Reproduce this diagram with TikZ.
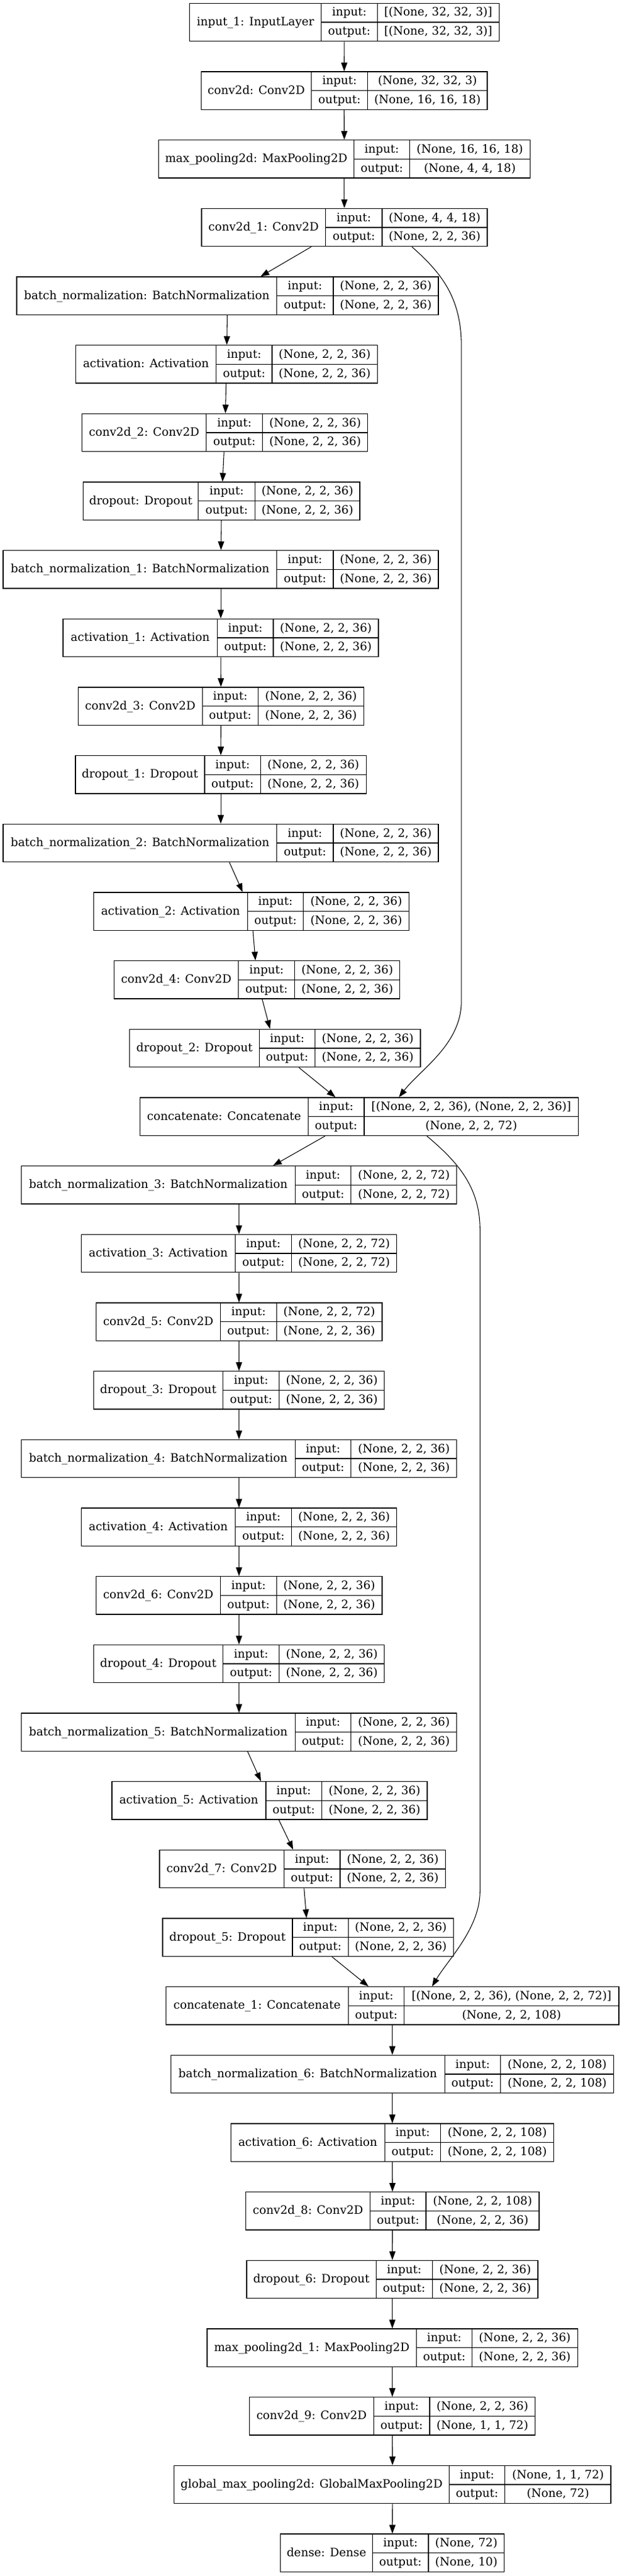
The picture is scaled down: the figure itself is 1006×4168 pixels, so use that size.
\documentclass[tikz,border=0pt]{standalone}
\usepackage{fontspec}
\setmainfont{DejaVu Serif}
\usetikzlibrary{arrows.meta}

\tikzset{
  rec/.style={draw,line width=1pt,inner sep=0pt,minimum height=46pt},
  txt/.style={inner sep=0pt,text height=11pt,text depth=3pt,font=\fontsize{14}{16}\selectfont},
  link/.style={line width=0.8pt,-{Triangle[length=10.5pt,width=7.5pt]}}
}

% one layer box: name, rank, cell borders (px), label, input shape, output shape
\newcommand{\layer}[9]{
  \pgfmathsetmacro{\rtop}{5.333+#2*110.667}
  \pgfmathsetmacro{\rbot}{\rtop+61.333}
  \pgfmathsetmacro{\rmid}{\rtop+30.667}
  \pgfmathsetmacro{\rin}{\rtop+15.333}
  \pgfmathsetmacro{\rout}{\rtop+46}
  \node[rec,minimum width={(#6-#3)*0.75pt}] (#1) at ({(#3+#6)/2},\rmid) {};
  \draw[line width=1pt] (#4,\rtop) -- (#4,\rbot) (#5,\rtop) -- (#5,\rbot) (#4,\rmid) -- (#6,\rmid);
  \node[txt] (#1-n) at ({(#3+#4)/2},\rmid) {#7};
  \node[txt] (#1-i) at ({(#4+#5)/2},\rin) {input:};
  \node[txt] (#1-o) at ({(#4+#5)/2},\rout) {output:};
  \node[txt] (#1-a) at ({(#5+#6)/2},\rin) {#8};
  \node[txt] (#1-b) at ({(#5+#6)/2},\rout) {#9};
}

\begin{document}
\begin{tikzpicture}[x=0.75pt,y=-0.75pt]
\fill[white] (0,0) rectangle (1006,4168);
\layer{input}{0}{306.7}{519.7}{610.2}{807.2}{input\_1: InputLayer}{[(None, 32, 32, 3)]}{[(None, 32, 32, 3)]}
\layer{conv}{1}{325.3}{503.7}{594.8}{787.9}{conv2d: Conv2D}{(None, 32, 32, 3)}{(None, 16, 16, 18)}
\layer{pool}{2}{256.6}{572.3}{662.8}{857.2}{max\_pooling2d: MaxPooling2D}{(None, 16, 16, 18)}{(None, 4, 4, 18)}
\layer{conv1}{3}{325.9}{526.8}{617.9}{787.9}{conv2d\_1: Conv2D}{(None, 4, 4, 18)}{(None, 2, 2, 36)}
\layer{bn}{4}{26.9}{447.8}{538.9}{709.0}{batch\_normalization: BatchNormalization}{(None, 2, 2, 36)}{(None, 2, 2, 36)}
\layer{act}{5}{122.5}{349.7}{440.1}{610.2}{activation: Activation}{(None, 2, 2, 36)}{(None, 2, 2, 36)}
\layer{conv2}{6}{132.8}{333.6}{424.7}{594.8}{conv2d\_2: Conv2D}{(None, 2, 2, 36)}{(None, 2, 2, 36)}
\layer{drop}{7}{134.7}{320.8}{412.5}{582.0}{dropout: Dropout}{(None, 2, 2, 36)}{(None, 2, 2, 36)}
\layer{bn1}{8}{5.1}{447.8}{538.9}{709.0}{batch\_normalization\_1: BatchNormalization}{(None, 2, 2, 36)}{(None, 2, 2, 36)}
\layer{act1}{9}{102.0}{351.6}{442.0}{612.1}{activation\_1: Activation}{(None, 2, 2, 36)}{(None, 2, 2, 36)}
\layer{conv3}{10}{126.4}{327.2}{417.7}{588.3}{conv2d\_3: Conv2D}{(None, 2, 2, 36)}{(None, 2, 2, 36)}
\layer{drop1}{11}{121.9}{331.0}{421.5}{592.2}{dropout\_1: Dropout}{(None, 2, 2, 36)}{(None, 2, 2, 36)}
\layer{bn2}{12}{5.1}{447.8}{538.9}{709.0}{batch\_normalization\_2: BatchNormalization}{(None, 2, 2, 36)}{(None, 2, 2, 36)}
\layer{act2}{13}{151.4}{400.4}{490.8}{661.5}{activation\_2: Activation}{(None, 2, 2, 36)}{(None, 2, 2, 36)}
\layer{conv4}{14}{184.8}{385.6}{476.7}{646.7}{conv2d\_4: Conv2D}{(None, 2, 2, 36)}{(None, 2, 2, 36)}
\layer{drop2}{15}{209.8}{419.6}{509.4}{680.1}{dropout\_2: Dropout}{(None, 2, 2, 36)}{(None, 2, 2, 36)}
\layer{cat}{16}{226.5}{498.5}{589.0}{935.5}{concatenate: Concatenate}{[(None, 2, 2, 36), (None, 2, 2, 36)]}{(None, 2, 2, 72)}
\layer{bn3}{17}{34.6}{477.3}{567.8}{738.5}{batch\_normalization\_3: BatchNormalization}{(None, 2, 2, 72)}{(None, 2, 2, 72)}
\layer{act3}{18}{131.5}{380.5}{471.6}{641.6}{activation\_3: Activation}{(None, 2, 2, 72)}{(None, 2, 2, 72)}
\layer{conv5}{19}{155.3}{356.7}{447.2}{617.9}{conv2d\_5: Conv2D}{(None, 2, 2, 72)}{(None, 2, 2, 36)}
\layer{drop3}{20}{151.4}{360.6}{451.7}{621.7}{dropout\_3: Dropout}{(None, 2, 2, 36)}{(None, 2, 2, 36)}
\layer{bn4}{21}{34.6}{477.3}{567.8}{738.5}{batch\_normalization\_4: BatchNormalization}{(None, 2, 2, 36)}{(None, 2, 2, 36)}
\layer{act4}{22}{131.5}{380.5}{471.6}{641.6}{activation\_4: Activation}{(None, 2, 2, 36)}{(None, 2, 2, 36)}
\layer{conv6}{23}{155.3}{356.7}{447.2}{617.9}{conv2d\_6: Conv2D}{(None, 2, 2, 36)}{(None, 2, 2, 36)}
\layer{drop4}{24}{151.4}{360.6}{451.7}{621.7}{dropout\_4: Dropout}{(None, 2, 2, 36)}{(None, 2, 2, 36)}
\layer{bn5}{25}{34.6}{477.3}{567.8}{738.5}{batch\_normalization\_5: BatchNormalization}{(None, 2, 2, 36)}{(None, 2, 2, 36)}
\layer{act5}{26}{180.9}{429.9}{520.3}{691.0}{activation\_5: Activation}{(None, 2, 2, 36)}{(None, 2, 2, 36)}
\layer{conv7}{27}{257.9}{459.4}{549.9}{720.5}{conv2d\_7: Conv2D}{(None, 2, 2, 36)}{(None, 2, 2, 36)}
\layer{drop5}{28}{263.1}{472.9}{563.3}{733.4}{dropout\_5: Dropout}{(None, 2, 2, 36)}{(None, 2, 2, 36)}
\layer{cat1}{29}{268.2}{563.3}{653.8}{1000.9}{concatenate\_1: Concatenate}{[(None, 2, 2, 36), (None, 2, 2, 72)]}{(None, 2, 2, 108)}
\layer{bn6}{30}{276.5}{719.2}{809.7}{992.6}{batch\_normalization\_6: BatchNormalization}{(None, 2, 2, 108)}{(None, 2, 2, 108)}
\layer{act6}{31}{373.4}{622.4}{712.8}{895.7}{activation\_6: Activation}{(None, 2, 2, 108)}{(None, 2, 2, 108)}
\layer{conv8}{32}{397.8}{598.6}{689.1}{871.9}{conv2d\_8: Conv2D}{(None, 2, 2, 108)}{(None, 2, 2, 36)}
\layer{drop6}{33}{399.1}{608.2}{699.3}{870.0}{dropout\_6: Dropout}{(None, 2, 2, 36)}{(None, 2, 2, 36)}
\layer{pool1}{34}{334.9}{673.7}{763.5}{934.2}{max\_pooling2d\_1: MaxPooling2D}{(None, 2, 2, 36)}{(None, 2, 2, 36)}
\layer{conv9}{35}{403.6}{604.4}{694.9}{865.5}{conv2d\_9: Conv2D}{(None, 2, 2, 36)}{(None, 1, 1, 72)}
\layer{gpool}{36}{281.7}{726.3}{816.8}{988.1}{global\_max\_pooling2d: GlobalMaxPooling2D}{(None, 1, 1, 72)}{(None, 72)}
\layer{dense}{37}{453.6}{602.5}{692.9}{815.5}{dense: Dense}{(None, 72)}{(None, 10)}

\draw[link] (input) -- (conv);
\draw[link] (conv) -- (pool);
\draw[link] (pool) -- (conv1);
\draw[link] (conv1) -- (bn);
\draw[link] (bn) -- (act);
\draw[link] (act) -- (conv2);
\draw[link] (conv2) -- (drop);
\draw[link] (drop) -- (bn1);
\draw[link] (bn1) -- (act1);
\draw[link] (act1) -- (conv3);
\draw[link] (conv3) -- (drop1);
\draw[link] (drop1) -- (bn2);
\draw[link] (bn2) -- (act2);
\draw[link] (act2) -- (conv4);
\draw[link] (conv4) -- (drop2);
\draw[link] (drop2) -- (cat);
\draw[link] (cat) -- (bn3);
\draw[link] (bn3) -- (act3);
\draw[link] (act3) -- (conv5);
\draw[link] (conv5) -- (drop3);
\draw[link] (drop3) -- (bn4);
\draw[link] (bn4) -- (act4);
\draw[link] (act4) -- (conv6);
\draw[link] (conv6) -- (drop4);
\draw[link] (drop4) -- (bn5);
\draw[link] (bn5) -- (act5);
\draw[link] (act5) -- (conv7);
\draw[link] (conv7) -- (drop5);
\draw[link] (drop5) -- (cat1);
\draw[link] (cat1) -- (bn6);
\draw[link] (bn6) -- (act6);
\draw[link] (act6) -- (conv8);
\draw[link] (conv8) -- (drop6);
\draw[link] (drop6) -- (pool1);
\draw[link] (pool1) -- (conv9);
\draw[link] (conv9) -- (gpool);
\draw[link] (gpool) -- (dense);

% skip connections
\coordinate (skipa1) at (746.2,560);
\coordinate (skipa2) at (746.2,1620);
\coordinate (skipb1) at (776.3,1990);
\coordinate (skipb2) at (776.3,3060);
\draw[link] (conv1.-16.6) .. controls (712,440) and (746.2,480) .. (skipa1) -- (skipa2) .. controls (746.2,1690) and (680,1730) .. (cat.26.8);
\draw[link] (cat.-16) .. controls (740,1880) and (776.3,1920) .. (skipb1) -- (skipb2) .. controls (776.3,3120) and (725,3170) .. (cat1.26.5);
\end{tikzpicture}
\end{document}
